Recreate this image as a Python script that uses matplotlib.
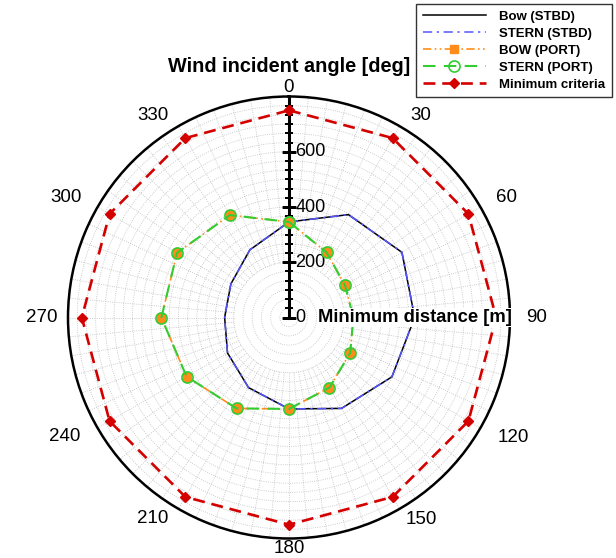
import numpy as np
import matplotlib
matplotlib.use('Agg')
from matplotlib import pyplot as plt

plt.rcParams['font.family'] = ['Liberation Sans', 'DejaVu Sans']

# wind incident angle [deg] and minimum distance [m]
angles = [0, 30, 60, 90, 120, 150, 180, 210, 240, 270, 300, 330]
bow_stbd = [346, 430, 472, 455, 430, 380, 331, 293, 257, 233, 243, 283]
stern_stbd = [346, 430, 472, 455, 430, 380, 331, 293, 257, 233, 243, 283]
bow_port = [346, 272, 234, 233, 256, 293, 331, 380, 428, 462, 468, 428]
stern_port = [346, 272, 234, 233, 256, 293, 331, 380, 428, 462, 468, 428]
min_criteria = [750, 750, 750, 750, 750, 750, 750, 750, 750, 750, 750, 750]

theta_labels = ['0', '30', '60', '90', '120', '150', '180', '210', '240', '270', '300', '330']
r_labels = [0, 200, 400, 600]
rmax = 800

# where each angle label sits relative to the ring (pixels, x right / y down)
label_offsets = [(0, -9.5), (21, -11), (26, -10), (27, 0), (33, 9), (22, 10.5),
                 (0, 10), (-26, 10), (-33, 8.5), (-26, 0), (-32, -10), (-26, -11)]


def closed(vals):
    return list(vals) + [vals[0]]


th = np.deg2rad(closed(angles))

fig = plt.figure(figsize=(6.16, 5.58), dpi=100)
# centre at about (289, 317) px, radius about 221 px
ax = fig.add_axes([68 / 616, 19.5 / 558, 442 / 616, 442 / 558], projection='polar')
ax.set_theta_zero_location('N')
ax.set_theta_direction(-1)
ax.set_ylim(0, rmax)
ax.grid(False)
ax.set_yticks([])

# outer ring ticks
ax.set_xticks(np.deg2rad(angles))
ax.set_xticks(np.deg2rad(np.arange(0, 360, 5)), minor=True)
ax.set_xticklabels([])
ax.tick_params(axis='x', which='major', direction='in', length=7.5, width=1.6, color='black', pad=0)
ax.tick_params(axis='x', which='minor', direction='in', length=3.5, width=0.8, color='black')
ax.spines['polar'].set_linewidth(1.8)

# dotted grid
full = np.linspace(0, 2 * np.pi, 721)
for r in np.arange(1, 24) * (200 / 6):
    ax.plot(full, np.full_like(full, r), color='#bdbdbd', lw=0.6, ls=':', zorder=1)
for a in np.arange(0, 360, 5):
    ax.plot([np.deg2rad(a)] * 2, [200, rmax], color='#bdbdbd', lw=0.6, ls=':', zorder=1)

# radial axis on the 0 deg line
ax.plot([0, 0], [0, rmax], color='black', lw=2.2, zorder=3)
minor_r = [r for r in np.arange(0, rmax, 200 / 6) if round(r) % 200 != 0]
ax.plot([0] * len(minor_r), minor_r, ls='none', marker='_', ms=5.5, mew=1.3, color='black', zorder=3)
ax.plot([0] * len(r_labels), r_labels, ls='none', marker='_', ms=10.5, mew=1.8, color='black', zorder=3)
for r in r_labels:
    ax.annotate(str(r), xy=(0, r), xytext=(4.5, 0), textcoords='offset points',
                ha='left', va='center', fontsize=13, zorder=4)

# data
ax.plot(th, closed(bow_stbd), color='black', lw=1.1, label='Bow (STBD)', zorder=5)
ax.plot(th, closed(stern_stbd), color='#5555ff', lw=1.1, ls=(0, (6, 3, 1.5, 3)),
        label='STERN (STBD)', zorder=5)
ax.plot(th, closed(bow_port), color='#ff8c1a', lw=1.2, ls=(0, (5, 2, 1, 2, 1, 2)),
        marker='s', ms=6, mfc='#ff8c1a', mec='#ff8c1a', label='BOW (PORT)', zorder=6)
ax.plot(th, closed(stern_port), color='#33cc33', lw=1.5, ls=(0, (6, 4)),
        marker='o', ms=8, mfc='none', mec='#33cc33', mew=1.2, label='STERN (PORT)', zorder=6)
ax.plot(th, closed(min_criteria), color='#d40000', lw=1.9, ls=(0, (4.5, 2.6)),
        marker='D', ms=5, mfc='#d40000', mec='#d40000', label='Minimum criteria', zorder=6)

# angle labels outside the ring
px = 72 / 100
for a, s, (ox, oy) in zip(angles, theta_labels, label_offsets):
    ax.annotate(s, xy=(np.deg2rad(a), rmax), xytext=(ox * px, -oy * px),
                textcoords='offset points', ha='center', va='center',
                fontsize=13.5, annotation_clip=False)

ax.text(0.5 + 29 / 442, 0.5, 'Minimum distance [m]', transform=ax.transAxes, ha='left', va='center',
        fontsize=13.2, fontweight='bold', zorder=10,
        bbox=dict(facecolor='white', edgecolor='none', pad=1))
fig.text(289 / 616, 1 - 66 / 558, 'Wind incident angle [deg]', ha='center', va='center',
         fontsize=14.3, fontweight='bold')

leg = fig.legend(loc='upper right', bbox_to_anchor=(612 / 616, 1 - 4 / 558), borderaxespad=0,
                 prop={'weight': 'bold', 'size': 9.5}, handlelength=4.8, labelspacing=0.36,
                 fancybox=False, framealpha=1, edgecolor='#333333', borderpad=0.5,
                 handletextpad=1.0)
leg.get_frame().set_linewidth(1.0)

plt.savefig('out.png', dpi=100)
